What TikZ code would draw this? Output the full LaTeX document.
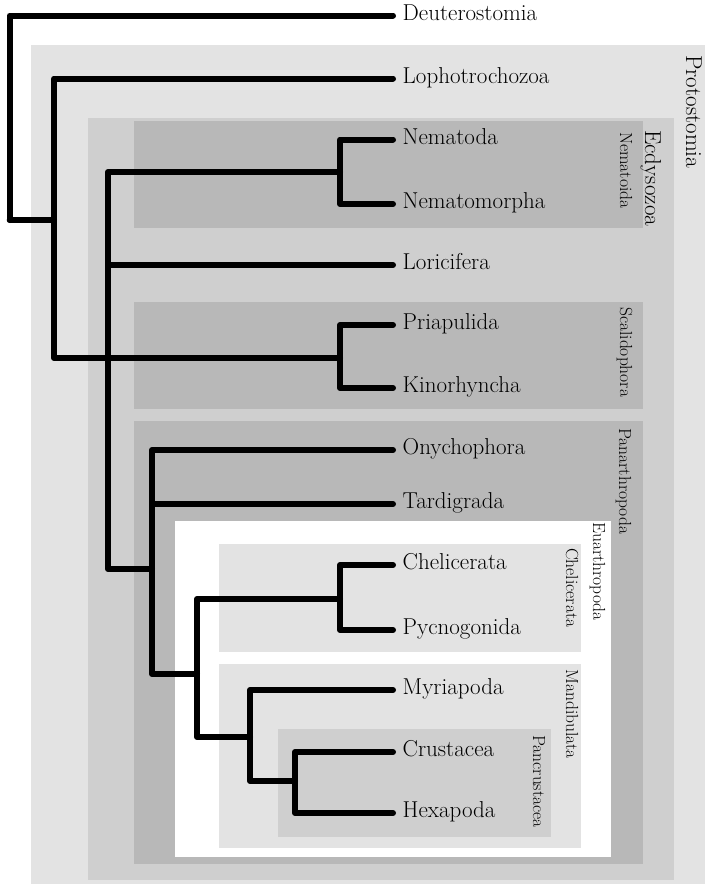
\documentclass[tikz,border=0pt]{standalone}
\usepackage{tikz}
\definecolor{gA}{HTML}{E3E3E3}
\definecolor{gB}{HTML}{CFCFCF}
\definecolor{gC}{HTML}{B8B8B8}
\begin{document}
\begin{tikzpicture}[x=1pt,y=-1pt,
  edge/.style={line width=6pt,line cap=round,line join=round,black},
  leaf/.style={anchor=west,inner xsep=9.5pt,inner ysep=0pt,text height=0.683em,text depth=0pt,yshift=-1.5pt,font=\fontsize{23}{26}\selectfont},
  biglab/.style={rotate=-90,anchor=base west,inner sep=0pt,font=\fontsize{23}{26}\selectfont},
  smalllab/.style={rotate=-90,anchor=base west,inner sep=0pt,font=\fontsize{17.5}{20}\selectfont}]
\useasboundingbox (0,0) rectangle (705,884);
% group boxes
\fill[gA] (31,45) rectangle (705,884);
\fill[gB] (88,118) rectangle (674,880);
\fill[gC] (134,121) rectangle (643,228);
\fill[gC] (134,302) rectangle (643,409);
\fill[gC] (134,421) rectangle (643,864);
\fill[white] (175,521) rectangle (611,857);
\fill[gA] (219,544) rectangle (581,652);
\fill[gA] (219,664) rectangle (581,848);
\fill[gB] (278,729) rectangle (551,837);
% group labels
\node[biglab] (lproto) at (686,55) {Protostomia};
\node[biglab] (lecd) at (645,130) {Ecdysozoa};
\node[smalllab] (lnem) at (620,132) {Nematoida};
\node[smalllab] (lscal) at (620,307) {Scalidophora};
\node[smalllab] (lpan) at (619,428) {Panarthropoda};
\node[smalllab] (leuar) at (593,522) {Euarthropoda};
\node[smalllab] (lchel) at (566,548) {Chelicerata};
\node[smalllab] (lmand) at (566,669) {Mandibulata};
\node[smalllab] (lpanc) at (533,735) {Pancrustacea};
% leaves
\node[leaf] (deut) at (393,15.5) {Deuterostomia};
\node[leaf] (loph) at (393,78.5) {Lophotrochozoa};
\node[leaf] (nemd) at (393,139.5) {Nematoda};
\node[leaf] (nemm) at (393,204) {Nematomorpha};
\node[leaf] (lori) at (393,265) {Loricifera};
\node[leaf] (pria) at (393,325) {Priapulida};
\node[leaf] (kino) at (393,388) {Kinorhyncha};
\node[leaf] (onyc) at (393,450) {Onychophora};
\node[leaf] (tard) at (393,504) {Tardigrada};
\node[leaf] (chel) at (393,565) {Chelicerata};
\node[leaf] (pycn) at (393,630) {Pycnogonida};
\node[leaf] (myri) at (393,690) {Myriapoda};
\node[leaf] (crus) at (393,752) {Crustacea};
\node[leaf] (hexa) at (393,813) {Hexapoda};
% internal nodes
\coordinate (root) at (9.7,220);
\coordinate (proto) at (54,220);
\coordinate (ecd) at (108,358);
\coordinate (nemi) at (340,172);
\coordinate (scal) at (340,358);
\coordinate (pan) at (152,569);
\coordinate (euar) at (197,674);
\coordinate (cheli) at (340,599);
\coordinate (mand) at (250,737);
\coordinate (panc) at (295,781);
% edges
\draw[edge] (root) |- ([yshift=1.5pt]deut.west);
\draw[edge] (root) -- (proto);
\draw[edge] (proto) |- ([yshift=1.5pt]loph.west);
\draw[edge] (proto) |- (ecd);
\draw[edge] (ecd) |- (nemi);
\draw[edge] (nemi) |- ([yshift=1.5pt]nemd.west);
\draw[edge] (nemi) |- ([yshift=1.5pt]nemm.west);
\draw[edge] (ecd) |- ([yshift=1.5pt]lori.west);
\draw[edge] (ecd) -- (scal);
\draw[edge] (scal) |- ([yshift=1.5pt]pria.west);
\draw[edge] (scal) |- ([yshift=1.5pt]kino.west);
\draw[edge] (ecd) |- (pan);
\draw[edge] (pan) |- ([yshift=1.5pt]onyc.west);
\draw[edge] (pan) |- ([yshift=1.5pt]tard.west);
\draw[edge] (pan) |- (euar);
\draw[edge] (euar) |- (cheli);
\draw[edge] (cheli) |- ([yshift=1.5pt]chel.west);
\draw[edge] (cheli) |- ([yshift=1.5pt]pycn.west);
\draw[edge] (euar) |- (mand);
\draw[edge] (mand) |- ([yshift=1.5pt]myri.west);
\draw[edge] (mand) |- (panc);
\draw[edge] (panc) |- ([yshift=1.5pt]crus.west);
\draw[edge] (panc) |- ([yshift=1.5pt]hexa.west);
\end{tikzpicture}
\end{document}
